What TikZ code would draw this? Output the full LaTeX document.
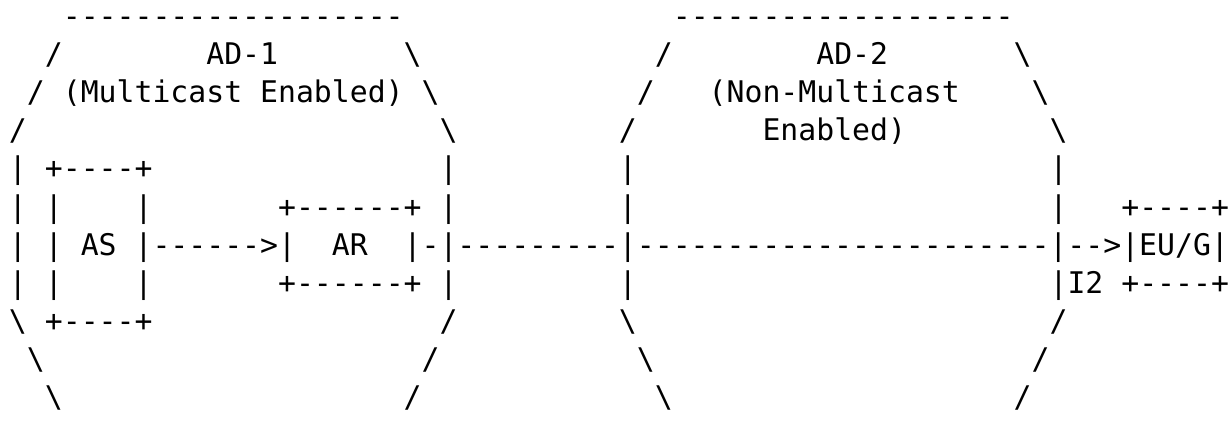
\documentclass[tikz,border=0pt]{standalone}
\usepackage{fontspec}
\setmonofont{DejaVu Sans Mono}
\newcommand\bsl{\textbackslash}
\tikzset{asciirow/.style={anchor=base west, inner sep=0pt, outer sep=0pt,
    font=\ttfamily\fontsize{14.9pt}{19pt}\selectfont}}

\begin{document}
\begin{tikzpicture}[x=0.5pt, y=0.5pt]
	%%%%% START %%%%%
	
	\useasboundingbox (0,0) rectangle (1231,-433);
	
	\node[asciirow] (r0) at (9,-26.5) {\obeyspaces{}   -------------------               -------------------};
	\node[asciirow] (r1) at (9,-64.6) {\obeyspaces{}  /        AD-1       \bsl             /        AD-2       \bsl};
	\node[asciirow] (r2) at (9,-102.7) {\obeyspaces{} / (Multicast Enabled) \bsl           /   (Non-Multicast    \bsl};
	\node[asciirow] (r3) at (9,-140.8) {\obeyspaces{}/                       \bsl         /       Enabled)        \bsl};
	
	\node[asciirow] (r4) at (9,-178.9) {\obeyspaces{}| +----+                |         |                       |};
	\node[asciirow] (r5) at (9,-217.0) {\obeyspaces{}| |    |       +------+ |         |                       |   +----+};
	\node[asciirow] (r6) at (9,-255.1) {\obeyspaces{}| | AS |------>|  AR  |-|---------|-----------------------|-->|EU/G|};
	\node[asciirow] (r7) at (9,-293.2) {\obeyspaces{}| |    |       +------+ |         |                       |I2 +----+};
	
	\node[asciirow] (r8) at (9,-331.3) {\obeyspaces{}\bsl +----+                /         \bsl                       /};
	\node[asciirow] (r9) at (9,-369.4) {\obeyspaces{} \bsl                     /           \bsl                     /};
	\node[asciirow] (r10) at (9,-407.5) {\obeyspaces{}  \bsl                   /             \bsl                   /};
	
	%%%%% END %%%%%
\end{tikzpicture}
\end{document}
